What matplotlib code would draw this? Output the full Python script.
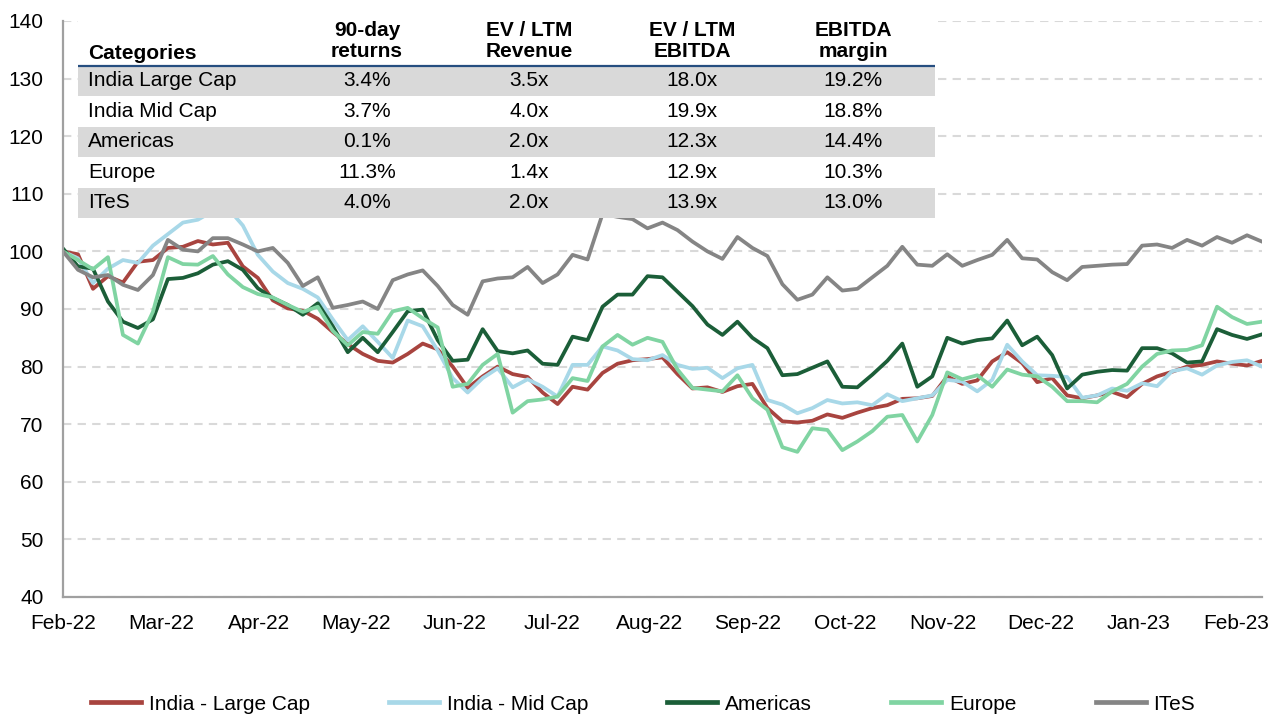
import matplotlib.pyplot as plt
import numpy as np
from matplotlib.patches import Rectangle

plt.rcParams["font.family"] = ["Liberation Sans", "DejaVu Sans"]

# indexed performance, Feb-22 = 100 (read roughly every ~4-5 days)
large_cap = [100, 99.5, 93.5, 95.7, 94.6, 98.2, 98.5, 100.6, 100.8, 101.8, 101.2, 101.5, 97.4, 95.4, 91.5, 90.1,
             89.7, 88.3, 86, 83.9, 82.2, 81, 80.7, 82.2, 84, 83, 80, 76.3, 78.3, 80, 78.7, 78.2,
             75.5, 73.5, 76.5, 76, 78.9, 80.5, 81.1, 81.3, 81.6, 78.7, 76.2, 76.4, 75.6, 76.6, 77, 72.8,
             70.5, 70.3, 70.6, 71.7, 71.1, 72, 72.8, 73.3, 74.4, 74.5, 74.9, 78.3, 77, 77.6, 80.9,
             82.5, 80.6, 77.3, 78, 75, 74.5, 75, 75.6, 74.7, 77, 78.3, 79.1, 80, 80.3, 80.9, 80.5, 80.2, 81]
mid_cap = [100, 98.8, 94.5, 97, 98.5, 98, 101, 103, 105, 105.5, 107, 107.5, 104.5, 99.4, 96.5, 94.5,
           93.5, 92, 88.2, 84.6, 87, 84.3, 81.5, 88, 87, 82.8, 78, 75.5, 78, 79.7, 76.4, 77.8,
           76.5, 74.8, 80.3, 80.3, 83.5, 82.8, 81.3, 81.1, 82, 80.3, 79.6, 79.8, 78, 79.7, 80.3, 74.2,
           73.4, 71.9, 72.8, 74.2, 73.6, 73.8, 73.3, 75.2, 74, 74.5, 75, 77.7, 77.4, 75.7, 77.7,
           83.8, 80.9, 78.5, 78.4, 78.2, 74.6, 75, 76.2, 75.8, 77.1, 76.6, 79.2, 79.7, 78.6, 80.2, 80.8, 81.1, 80]
americas = [100.5, 97.4, 97, 91.3, 87.8, 86.7, 88.2, 95.2, 95.4, 96.2, 97.7, 98.3, 96.8, 93.6, 91.9, 90.7,
            89, 91, 87, 82.5, 85, 82.5, 86, 89.6, 89.9, 84.6, 81, 81.2, 86.5, 82.7, 82.3, 82.8,
            80.5, 80.3, 85.2, 84.6, 90.4, 92.5, 92.5, 95.7, 95.5, 93, 90.5, 87.3, 85.5, 87.8, 85, 83.2,
            78.5, 78.7, 79.8, 80.9, 76.5, 76.4, 78.6, 81, 84, 76.5, 78.3, 85, 84, 84.6, 84.9,
            88, 83.7, 85.2, 82, 76.2, 78.6, 79.1, 79.4, 79.3, 83.2, 83.2, 82.3, 80.7, 80.9, 86.5, 85.5, 84.8, 85.6]
europe = [100, 98.5, 96.9, 99, 85.5, 84, 89.5, 99, 97.8, 97.7, 99.2, 96, 93.8, 92.6, 92, 90.7,
          89.5, 90.4, 86.2, 83.7, 86, 85.7, 89.6, 90.2, 88.4, 86.8, 76.5, 77, 80.3, 82.2, 72, 74,
          74.3, 74.8, 78, 77.5, 83.5, 85.5, 83.8, 85, 84.3, 79.5, 76.3, 76, 75.7, 78.5, 74.5, 72.5,
          66, 65.2, 69.3, 69, 65.5, 67, 68.8, 71.3, 71.6, 67, 71.6, 79, 77.8, 78.5, 76.5,
          79.5, 78.6, 78.3, 76.5, 74, 74, 73.8, 75.7, 77, 80, 82.2, 82.8, 82.9, 83.7, 90.4, 88.6, 87.4, 87.8]
ites = [100, 96.8, 95.5, 95.9, 94.2, 93.3, 95.9, 102, 100.3, 100, 102.3, 102.3, 101.2, 100, 100.6, 98,
        94, 95.5, 90.2, 90.7, 91.3, 90, 95, 96, 96.7, 94, 90.7, 89, 94.8, 95.3, 95.5, 97.3,
        94.5, 96, 99.4, 98.6, 106.5, 106, 105.6, 104, 105, 103.7, 101.7, 100, 98.7, 102.5, 100.6, 99.2,
        94.3, 91.6, 92.5, 95.5, 93.2, 93.5, 95.5, 97.5, 100.8, 97.7, 97.5, 99.5, 97.5, 98.5, 99.4,
        102, 98.8, 98.6, 96.4, 95, 97.3, 97.5, 97.7, 97.8, 101, 101.2, 100.6, 102, 101, 102.5, 101.5, 102.8, 101.7]

month_labels = ["Feb-22", "Mar-22", "Apr-22", "May-22", "Jun-22", "Jul-22", "Aug-22",
                "Sep-22", "Oct-22", "Nov-22", "Dec-22", "Jan-23", "Feb-23"]

series_names = ["India - Large Cap", "India - Mid Cap", "Americas", "Europe", "ITeS"]
series_colors = ["#a8443f", "#a8d8e8", "#1b5e38", "#80d4a2", "#858585"]

# summary table
categories = ["India Large Cap", "India Mid Cap", "Americas", "Europe", "ITeS"]
col_headers = ["90-day\nreturns", "EV / LTM\nRevenue", "EV / LTM\nEBITDA", "EBITDA\nmargin"]
returns_90d = ["3.4%", "3.7%", "0.1%", "11.3%", "4.0%"]
ev_revenue = ["3.5x", "4.0x", "2.0x", "1.4x", "2.0x"]
ev_ebitda = ["18.0x", "19.9x", "12.3x", "12.9x", "13.9x"]
ebitda_margin = ["19.2%", "18.8%", "14.4%", "10.3%", "13.0%"]

W, H = 1281, 715
fig = plt.figure(figsize=(W / 100, H / 100), dpi=100)
ax = fig.add_axes([63 / W, 1 - 597 / H, (1262 - 63) / W, (597 - 21) / H])

months = np.linspace(0, 12.26, len(large_cap))
for vals, name, color in zip([large_cap, mid_cap, americas, europe, ites], series_names, series_colors):
    ax.plot(months, vals, color=color, lw=2.7, label=name, solid_joinstyle="round")

ax.set_xlim(0, 12.26)
ax.set_ylim(40, 140)
ax.set_xticks(range(len(month_labels)))
ax.set_xticklabels(month_labels)
ax.set_yticks(range(40, 141, 10))
ax.tick_params(axis="both", length=0, labelsize=15)
ax.tick_params(axis="y", pad=14)
ax.tick_params(axis="x", pad=12)
ax.yaxis.grid(True, linestyle=(0, (4, 3)), color="#d9d9d9", lw=1.5)
ax.set_axisbelow(True)
for side in ["top", "right"]:
    ax.spines[side].set_visible(False)
for side in ["left", "bottom"]:
    ax.spines[side].set_color("#a0a0a0")
    ax.spines[side].set_linewidth(1.6)

# table overlay
tab = fig.add_axes([78 / W, 1 - 218 / H, (935 - 78) / W, (218 - 14) / H])
tab.set_xlim(78, 935)
tab.set_ylim(218, 14)
tab.axis("off")
tab.add_patch(Rectangle((78, 14), 857, 204, facecolor="white", edgecolor="none"))
row_top, row_h = 65.5, 30.5
col_x = [367, 529, 692, 853]
for k, cat in enumerate(categories):
    y0 = row_top + k * row_h
    if k % 2 == 0:
        tab.add_patch(Rectangle((78, y0), 857, row_h, facecolor="#d9d9d9", edgecolor="none"))
    yc = y0 + row_h / 2
    tab.text(88, yc, cat, fontsize=15, va="center", ha="left")
    for cx, col in zip(col_x, [returns_90d, ev_revenue, ev_ebitda, ebitda_margin]):
        tab.text(cx, yc, col[k], fontsize=15, va="center", ha="center")
tab.plot([78, 935], [row_top, row_top], color="#264e80", lw=1.6)
tab.text(88, 53, "Categories", fontsize=15, fontweight="bold", va="center", ha="left")
for cx, hdr in zip(col_x, col_headers):
    tab.text(cx, 41, hdr, fontsize=15, fontweight="bold", va="center", ha="center", linespacing=1.15)

handles, labels = ax.get_legend_handles_labels()
leg = fig.legend(handles, labels, loc="center", bbox_to_anchor=(0.502, 1 - 704 / H), ncol=5,
                 frameon=False, fontsize=15, handlelength=2.4, handletextpad=0.38, columnspacing=3.8)
for line in leg.get_lines():
    line.set_linewidth(3.4)

fig.savefig("out.png", dpi=100)
